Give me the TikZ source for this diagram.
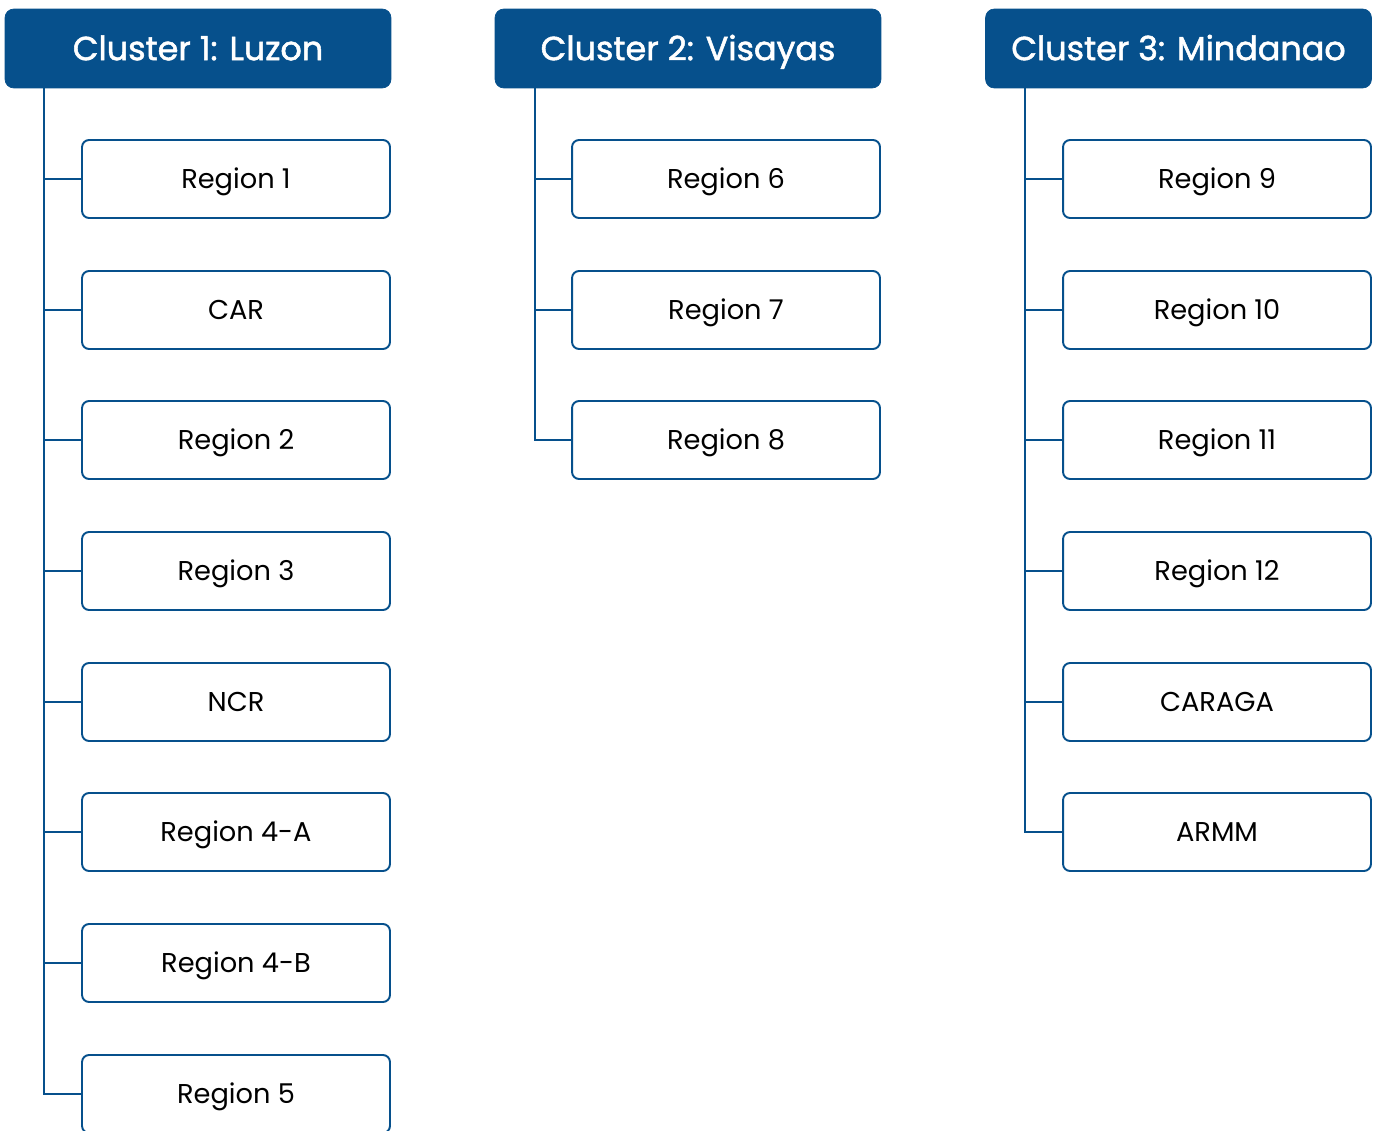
\documentclass[tikz,border=0pt]{standalone}
\usepackage{fontspec}
\setmainfont{Poppins}
\newfontfamily\headfont{Poppins}[FakeBold=1.6]
\definecolor{clusterblue}{RGB}{6,80,140}
\tikzset{
  cluster/.style={rectangle, rounded corners=5pt, fill=clusterblue, draw=clusterblue, text=white,
    minimum width=7.72cm, minimum height=1.58cm, text height=13.3pt, text depth=0pt,
    font=\headfont\fontsize{19}{22}\selectfont},
  region/.style={rectangle, rounded corners=4pt, draw=clusterblue, line width=1.1pt, fill=white,
    minimum width=6.16cm, minimum height=1.56cm, text height=10.9pt, text depth=0pt,
    font=\fontsize{15.5}{18}\selectfont},
  branch/.style={draw=clusterblue, line width=1.1pt}
}
\begin{document}
\begin{tikzpicture}[x=0.02cm, y=-0.02cm]
			\useasboundingbox (0,0) rectangle (1378,1131);

			% Cluster headers
			\node[cluster] (H1) at (198, 48.5) {Cluster 1: Luzon};
			\node[cluster] (H2) at (688, 48.5) {Cluster 2: Visayas};
			\node[cluster] (H3) at (1178.5, 48.5) {Cluster 3: Mindanao};

			% Trunk starting points
			\coordinate (T1) at (44, 88);
			\coordinate (T2) at (535, 88);
			\coordinate (T3) at (1025, 88);

			% Luzon regions
			\node[region] (L1) at (236, 179) {Region 1};
			\node[region] (L2) at (236, 310) {CAR};
			\node[region] (L3) at (236, 440) {Region 2};
			\node[region] (L4) at (236, 571) {Region 3};
			\node[region] (L5) at (236, 702) {NCR};
			\node[region] (L6) at (236, 832) {Region 4-A};
			\node[region] (L7) at (236, 963) {Region 4-B};
			\node[region] (L8) at (236, 1094) {Region 5};

			% Visayas regions
			\node[region] (V1) at (726, 179) {Region 6};
			\node[region] (V2) at (726, 310) {Region 7};
			\node[region] (V3) at (726, 440) {Region 8};

			% Mindanao regions
			\node[region] (M1) at (1217, 179) {Region 9};
			\node[region] (M2) at (1217, 310) {Region 10};
			\node[region] (M3) at (1217, 440) {Region 11};
			\node[region] (M4) at (1217, 571) {Region 12};
			\node[region] (M5) at (1217, 702) {CARAGA};
			\node[region] (M6) at (1217, 832) {ARMM};

			% Connect regions to their cluster
			\draw[branch] (T1) |- (L8.west);
			\draw[branch] (T1) |- (L1.west) (T1) |- (L2.west) (T1) |- (L3.west) (T1) |- (L4.west)
			  (T1) |- (L5.west) (T1) |- (L6.west) (T1) |- (L7.west);
			\draw[branch] (T2) |- (V3.west);
			\draw[branch] (T2) |- (V1.west) (T2) |- (V2.west);
			\draw[branch] (T3) |- (M6.west);
			\draw[branch] (T3) |- (M1.west) (T3) |- (M2.west) (T3) |- (M3.west) (T3) |- (M4.west)
			  (T3) |- (M5.west);

		\end{tikzpicture}
\end{document}
